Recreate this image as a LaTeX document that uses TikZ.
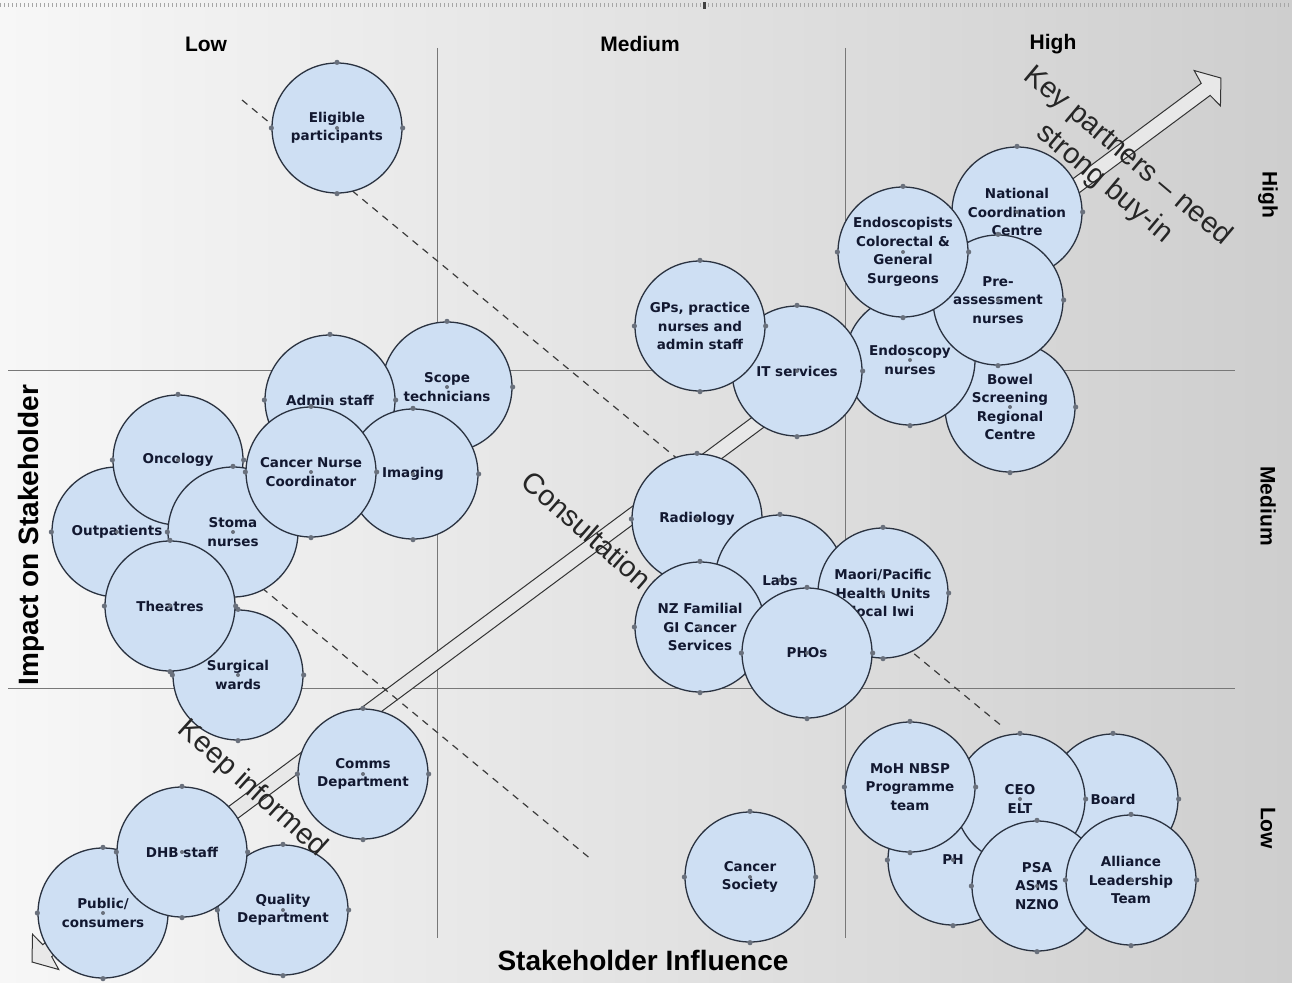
\documentclass[tikz,border=0pt]{standalone}
\usepackage{fontspec}
\setmainfont{Liberation Sans}
\newfontfamily\lblfont{DejaVu Sans}
\usetikzlibrary{calc}

\definecolor{bgl}{RGB}{247,247,247}
\definecolor{bgm}{RGB}{234,234,234}
\definecolor{bgr}{RGB}{206,206,206}
\definecolor{bubble}{RGB}{206,223,243}
\definecolor{ring}{RGB}{42,50,64}
\definecolor{dotc}{RGB}{105,112,124}
\definecolor{ink}{RGB}{18,24,48}
\definecolor{gridc}{RGB}{120,120,120}
\definecolor{dashc}{RGB}{60,60,60}
\definecolor{arrowfill}{RGB}{232,232,232}

\tikzset{
  stake/.style={circle, draw=ring, fill=bubble, line width=1.3pt,
    minimum size=130pt, inner sep=0pt, align=center, text=ink,
    font=\lblfont\bfseries\fontsize{13.5}{18.5}\selectfont},
  axislab/.style={font=\bfseries\fontsize{21}{24}\selectfont, text=black, inner sep=0pt},
  biglab/.style={font=\bfseries\fontsize{28}{32}\selectfont, text=black, inner sep=0pt},
  zonelab/.style={font=\fontsize{29}{36}\selectfont, align=center, text=black!85, inner sep=0pt},
  gridline/.style={draw=gridc, line width=1pt},
  divider/.style={draw=dashc, line width=1.2pt, dash pattern=on 7pt off 6pt},
  bigarrow/.style={draw=black!80, fill=arrowfill, line width=1pt, line join=miter},
}

% a stakeholder bubble with its four edge handles and centre mark
\newcommand{\stakebubble}[4]{%
  \node[stake] (#1) at (#2,#3) {#4};
  \foreach \a in {north,south,east,west}{\fill[dotc] (#1.\a) circle (2.6);}
  \fill[dotc] (#1.center) circle (2);
}

\begin{document}
\begin{tikzpicture}[x=1pt,y=-1pt]
  % canvas
  \shade[left color=bgl, middle color=bgm, right color=bgr] (0,0) rectangle (1292,982);
  \useasboundingbox (0,0) rectangle (1292,982);
  \draw[black!35, line width=4pt, dash pattern=on 1pt off 3pt] (0,5) -- (1292,5);
  \fill[black!75] (703,2) rectangle (706,9);

  % quadrant grid
  \coordinate (v1t) at (437,48);  \coordinate (v1b) at (437,938);
  \coordinate (v2t) at (845,48);  \coordinate (v2b) at (845,938);
  \coordinate (h1l) at (8,370);   \coordinate (h1r) at (1235,370);
  \coordinate (h2l) at (8,688);   \coordinate (h2r) at (1235,688);
  \draw[gridline] (v1t) -- (v1b);
  \draw[gridline] (v2t) -- (v2b);
  \draw[gridline] (h1l) -- (h1r);
  \draw[gridline] (h2l) -- (h2r);

  % axis labels
  \node[axislab] (xlow)  at (206,44)  {Low};
  \node[axislab] (xmed)  at (640,44)  {Medium};
  \node[axislab] (xhigh) at (1053,44) {High};
  \node[axislab, rotate=-90] (yhigh) at (1268,195) {High};
  \node[axislab, rotate=-90] (ymed)  at (1268,506) {Medium};
  \node[axislab, rotate=-90] (ylow)  at (1268,828) {Low};
  \node[biglab, rotate=90] (yaxis) at (31,535) {Impact on Stakeholder};
  \node[biglab] (xaxis) at (643,960) {Stakeholder Influence};

  % double-headed engagement arrow
  \begin{scope}[shift={(32,962)}, rotate=36.63]
    \draw[bigarrow] (0,0) -- (17,22) -- (19,7.5) -- (1462.6,7.5) -- (1464.6,22)
      -- (1481.6,0) -- (1464.6,-22) -- (1462.6,-7.5) -- (19,-7.5) -- (17,-22) -- cycle;
  \end{scope}

  % zone dividers
  \coordinate (d1a) at (242,100);  \coordinate (d1b) at (1003,727);
  \coordinate (d2a) at (262,588);  \coordinate (d2b) at (592,860);
  \draw[divider] (d1a) -- (d1b);
  \draw[divider] (d2a) -- (d2b);

  % low influence / high impact
  \stakebubble{eligible}{337}{128}{Eligible\\participants}

  % high influence / high impact
  \stakebubble{bowel}{1010}{407}{Bowel\\Screening\\Regional\\Centre}
  \stakebubble{national}{1017}{212}{National\\Coordination\\Centre}
  \stakebubble{endonurse}{910}{360}{Endoscopy\\nurses}
  \stakebubble{itserv}{797}{371}{IT services}
  \stakebubble{gps}{700}{326}{GPs, practice\\nurses and\\admin staff}
  \stakebubble{preassess}{998}{300}{Pre-\\assessment\\nurses}
  \stakebubble{endoscopists}{903}{252}{Endoscopists\\Colorectal \&\\General\\Surgeons}

  % medium influence / medium impact
  \stakebubble{radiology}{697}{519}{Radiology}
  \stakebubble{labs}{780}{580}{Labs}
  \stakebubble{maori}{883}{593}{Maori/Pacific\\Health Units\\local Iwi}
  \stakebubble{nzfam}{700}{627}{NZ Familial\\GI Cancer\\Services}
  \stakebubble{phos}{807}{653}{PHOs}

  % low influence / medium impact
  \stakebubble{outpat}{117}{532}{Outpatients}
  \stakebubble{oncology}{178}{460}{Oncology}
  \stakebubble{stoma}{233}{532}{Stoma\\nurses}
  \stakebubble{surgical}{238}{675}{Surgical\\wards}
  \stakebubble{theatres}{170}{606}{Theatres}
  \stakebubble{scope}{447}{387}{Scope\\technicians}
  \stakebubble{admin}{330}{400}{Admin staff}
  \stakebubble{imaging}{413}{474}{Imaging}
  \stakebubble{cnc}{311}{472}{Cancer Nurse\\Coordinator}

  % low influence / low impact
  \stakebubble{comms}{363}{774}{Comms\\Department}
  \stakebubble{public}{103}{913}{Public/\\consumers}
  \stakebubble{quality}{283}{910}{Quality\\Department}
  \stakebubble{dhb}{182}{852}{DHB staff}

  % medium influence / low impact
  \stakebubble{cansoc}{750}{877}{Cancer\\Society}

  % high influence / low impact
  \stakebubble{ph}{953}{860}{PH}
  \stakebubble{board}{1113}{799}{Board}
  \stakebubble{ceo}{1020}{799}{CEO\\ELT}
  \stakebubble{moh}{910}{787}{MoH NBSP\\Programme\\team}
  \stakebubble{psa}{1037}{886}{PSA\\ASMS\\NZNO}
  \stakebubble{alliance}{1131}{880}{Alliance\\Leadership\\Team}

  % engagement zone captions
  \node[zonelab, rotate=-40] (keyp) at (1116,170) {Key partners -- need\\strong buy-in};
  \node[zonelab, rotate=-41] (consult) at (587,530) {Consultation};
  \node[zonelab, rotate=-42] (keepinf) at (252,789) {Keep informed};
\end{tikzpicture}
\end{document}
